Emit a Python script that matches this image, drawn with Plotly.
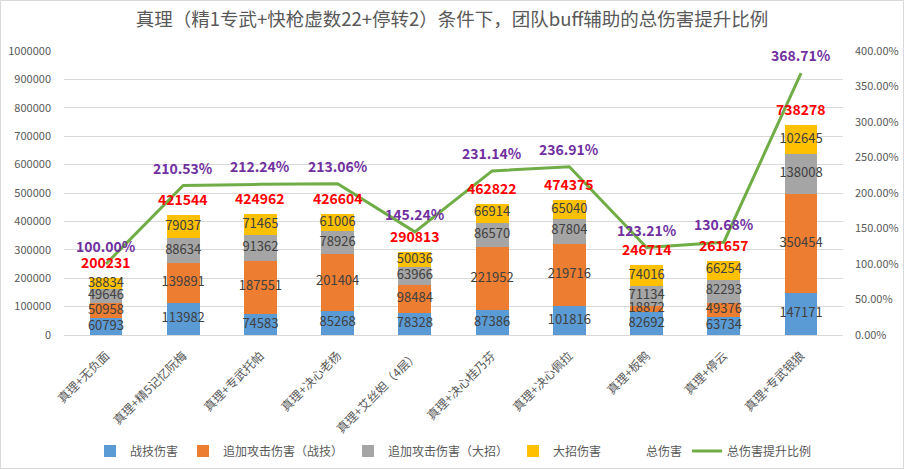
import plotly.graph_objects as go
import numpy as np

categories = ["真理+无负面", "真理+精5记忆阮梅", "真理+专武托帕", "真理+决心老杨", "真理+艾丝妲（4层）",
              "真理+决心桂乃芬", "真理+决心佩拉", "真理+板鸭", "真理+停云", "真理+专武银狼"]
skill_dmg = [60793, 113982, 74583, 85268, 78328, 87386, 101816, 82692, 63734, 147171]
fua_skill_dmg = [50958, 139891, 187551, 201404, 98484, 221952, 219716, 18872, 49376, 350454]
fua_ult_dmg = [49646, 88634, 91362, 78926, 63966, 86570, 87804, 71134, 82293, 138008]
ult_dmg = [38834, 79037, 71465, 61006, 50036, 66914, 65040, 74016, 66254, 102645]
total_dmg = [200231, 421544, 424962, 426604, 290813, 462822, 474375, 246714, 261657, 738278]
pct_increase = [100.00, 210.53, 212.24, 213.06, 145.24, 231.14, 236.91, 123.21, 130.68, 368.71]

series_names = ["战技伤害", "追加攻击伤害（战技）", "追加攻击伤害（大招）", "大招伤害"]
series_values = [skill_dmg, fua_skill_dmg, fua_ult_dmg, ult_dmg]
series_colors = ["#5B9BD5", "#ED7D31", "#A5A5A5", "#FFC000"]

FONT = "Noto Sans CJK SC"
TXT = "#595959"

fig = go.Figure()
for name, vals, col in zip(series_names, series_values, series_colors):
    fig.add_trace(go.Bar(x=categories, y=vals, name=name, marker=dict(color=col, line=dict(width=0)),
                         yaxis="y"))

# segment labels at segment centres
cum = np.zeros(len(categories))
for vals in series_values:
    v = np.array(vals, dtype=float)
    mids = cum + v / 2
    fig.add_trace(go.Scatter(x=categories, y=mids, mode="text", text=[str(x) for x in vals],
                             textfont=dict(family=FONT, size=13, color="#404040"),
                             showlegend=False, hoverinfo="skip", yaxis="y"))
    cum = cum + v

# total (legend entry without symbol)
fig.add_trace(go.Scatter(x=categories, y=total_dmg, mode="markers", name="总伤害",
                         marker=dict(color="rgba(0,0,0,0)", size=0.1), yaxis="y"))

fig.add_trace(go.Scatter(x=categories, y=pct_increase, mode="lines", name="总伤害提升比例",
                         line=dict(color="#70AD47", width=3), yaxis="y2"))

annotations = []
for c, t in zip(categories, total_dmg):
    annotations.append(dict(x=c, y=t, xref="x", yref="y", text=f"<b>{t}</b>", showarrow=False,
                            yshift=16, font=dict(family=FONT, size=14, color="#FF0000")))
for c, p in zip(categories, pct_increase):
    annotations.append(dict(x=c, y=p, xref="x", yref="y2", text=f"<b>{p:.2f}%</b>", showarrow=False,
                            yshift=18, font=dict(family=FONT, size=14, color="#7030A0")))

L, R, T, B = 64, 61, 51, 135
W, H = 904, 470
pw, ph = W - L - R, H - T - B

fig.update_layout(
    width=W, height=H,
    margin=dict(l=L, r=R, t=T, b=B, autoexpand=False),
    paper_bgcolor="white", plot_bgcolor="white",
    barmode="stack", bargap=0.575,
    font=dict(family=FONT, color=TXT, size=11),
    title=dict(text="真理（精1专武+快枪虚数22+停转2）条件下，团队buff辅助的总伤害提升比例",
               x=0.5, xanchor="center", y=1 - 20 / H, yanchor="middle",
               font=dict(family=FONT, size=18.5, color=TXT)),
    xaxis=dict(showline=True, linecolor="#D9D9D9", linewidth=1, ticks="", tickangle=-45,
               tickfont=dict(family=FONT, size=12, color=TXT), showgrid=False,
               ticklabelstandoff=8, automargin=False),
    yaxis=dict(range=[0, 1000000], dtick=100000, tickformat="d", showgrid=True, gridcolor="#D9D9D9",
               gridwidth=1, zeroline=False, showline=False, tickfont=dict(size=11, color=TXT),
               ticklabelstandoff=12, automargin=False),
    yaxis2=dict(range=[0, 400], dtick=50, tickformat=".2f", ticksuffix="%", overlaying="y", side="right",
                showgrid=False, zeroline=False, showline=False, tickfont=dict(size=11, color=TXT),
                ticklabelstandoff=11, automargin=False),
    legend=dict(orientation="h", x=0.5, xanchor="center", y=(T + ph - 451) / ph, yanchor="middle",
                font=dict(family=FONT, size=12, color=TXT), traceorder="normal", itemwidth=30),
    annotations=annotations,
    shapes=[dict(type="rect", xref="paper", yref="paper",
                 x0=(0.5 - L) / pw, x1=(W - 0.5 - L) / pw,
                 y0=(T + ph - (H - 1.5)) / ph, y1=(T + ph - 0.5) / ph,
                 line=dict(color="#D9D9D9", width=1), fillcolor="rgba(0,0,0,0)", layer="below")],
    showlegend=True,
)

fig.write_html("out.html", config={"displayModeBar": False},
               post_script="document.body.style.margin='0';document.body.style.overflow='hidden';")
